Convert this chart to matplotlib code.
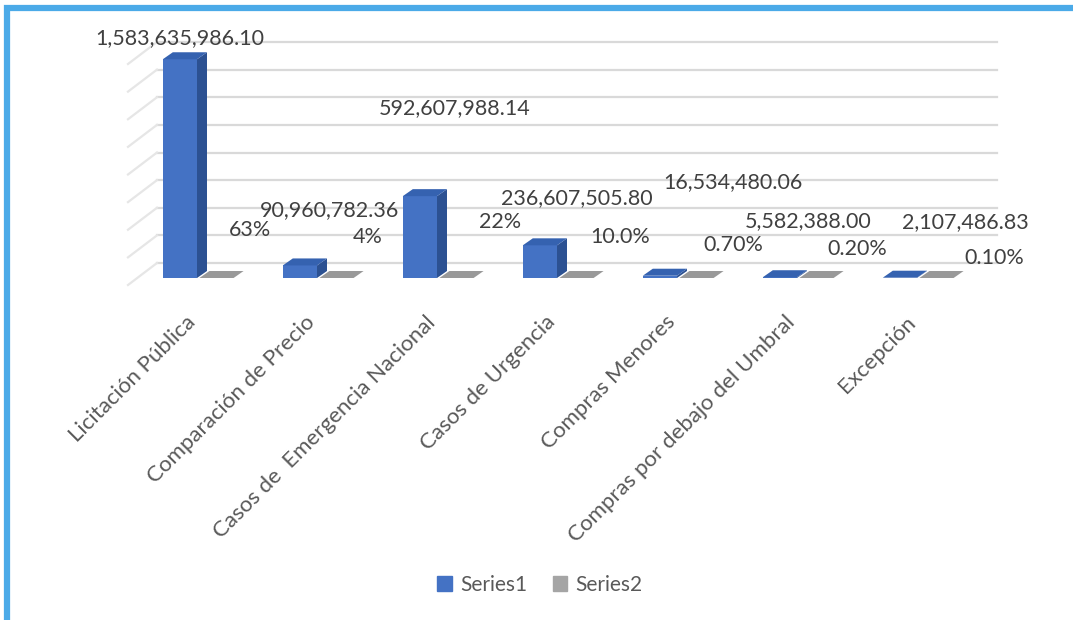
import matplotlib
matplotlib.use("Agg")
import matplotlib.pyplot as plt
import matplotlib.patches as patches

categorias = ["Licitación Pública", "Comparación de Precio", "Casos de  Emergencia Nacional",
              "Casos de Urgencia", "Compras Menores", "Compras por debajo del Umbral", "Excepción"]
montos = [1583635986.10, 90960782.36, 592607988.14, 236607505.80, 16534480.06, 5582388.00, 2107486.83]
porcentajes = [0.63, 0.04, 0.22, 0.10, 0.007, 0.002, 0.001]
etiquetas_monto = ["1,583,635,986.10", "90,960,782.36", "592,607,988.14", "236,607,505.80",
                   "16,534,480.06", "5,582,388.00", "2,107,486.83"]
etiquetas_pct = ["63%", "4%", "22%", "10.0%", "0.70%", "0.20%", "0.10%"]
grid_vals = [k * 200e6 for k in range(9)]

# desplazamientos manuales de las etiquetas (pixeles)
off_monto = [(0, 21), (30, 55), (35, 88), (37, 47), (73, 94), (28, 56), (65, 56)]
off_pct = [(33, 48), (31, 41), (44, 56), (44, 41), (37, 33), (41, 29), (58, 20)]

W, H = 1073, 620
fig = plt.figure(figsize=(W / 100, H / 100), dpi=100)
fig.patch.set_facecolor("white")

# geometria (pixeles)
ax_left, ax_top, ax_bot, base_y = 137, 30, 290, 278
px_per_cat = 120
px_per_val = 221 / 1.6e9
ax = fig.add_axes([ax_left / W, 1 - ax_bot / H, 7 * px_per_cat / W, (ax_bot - ax_top) / H])
ax.set_xlim(-0.5, 6.5)
ax.set_ylim(-(ax_bot - base_y) / px_per_val, (base_y - ax_top) / px_per_val)
ax.axis("off")

def dxd(px):
    return px / px_per_cat

def dyd(px):
    return px / px_per_val

# pared del fondo y pared lateral
for g in grid_vals:
    ax.plot([-0.5 + dxd(20), 6.5 + dxd(20)], [g + dyd(15), g + dyd(15)],
            color="#d9d9d9", lw=1.6, clip_on=False, zorder=1)
    ax.plot([-0.5 - dxd(9), -0.5 + dxd(20)], [g - dyd(7), g + dyd(15)],
            color="#e6e6e6", lw=1.6, clip_on=False, zorder=1)

bw = 0.285
ddx, ddy = dxd(10), dyd(7)

def barra3d(x0, h, front, side, top, z):
    x1 = x0 + bw
    ax.bar(x0, h, width=bw, align="edge", color=front, zorder=z, linewidth=0)
    ax.fill([x1, x1 + ddx, x1 + ddx, x1], [0, ddy, h + ddy, h], color=side, zorder=z, lw=0)
    ax.fill([x0, x1, x1 + ddx, x0 + ddx], [h, h, h + ddy, h + ddy], color=top, zorder=z, lw=0)

for i, v in enumerate(montos):
    barra3d(i - 0.285, v, "#4472c4", "#2c5192", "#3562b0", 3)
for i, p in enumerate(porcentajes):
    barra3d(i + 0.02, p, "#a5a5a5", "#8a8a8a", "#999999", 2)

lab_font = dict(family="Lato", fontsize=15.5, color="#404040")
for i, v in enumerate(montos):
    ax.annotate(etiquetas_monto[i], xy=(i - 0.285 + bw / 2, v), xytext=off_monto[i],
                textcoords="offset pixels", ha="center", va="center", zorder=5, **lab_font)
for i, p in enumerate(porcentajes):
    ax.annotate(etiquetas_pct[i], xy=(i + 0.02 + bw / 2, p), xytext=off_pct[i],
                textcoords="offset pixels", ha="center", va="center", zorder=5, **lab_font)

# etiquetas de categoria rotadas
for i, c in enumerate(categorias):
    ax.annotate(c, xy=(i, 0), xytext=(-12, -34), textcoords="offset pixels",
                rotation=45, rotation_mode="anchor", ha="right", va="top",
                family="Lato", fontsize=16, color="#595959")

# leyenda
handles = [patches.Patch(color="#4472c4", label="Series1"),
           patches.Patch(color="#a5a5a5", label="Series2")]
leg = fig.legend(handles=handles, loc="center", bbox_to_anchor=(540 / W, 1 - 585 / H), ncol=2,
                 frameon=False, handlelength=0.7, handleheight=0.7, handletextpad=0.4,
                 columnspacing=1.2, prop=dict(family="Lato", size=15))
for t in leg.get_texts():
    t.set_color("#595959")

# marco azul
marco = patches.Rectangle((7 / W, -0.1), 1.2, 1 - 8 / H + 0.1, transform=fig.transFigure,
                          fill=False, edgecolor="#4baae8", lw=4.5, clip_on=False)
fig.patches.append(marco)

fig.savefig("out.png", dpi=100, facecolor="white")
